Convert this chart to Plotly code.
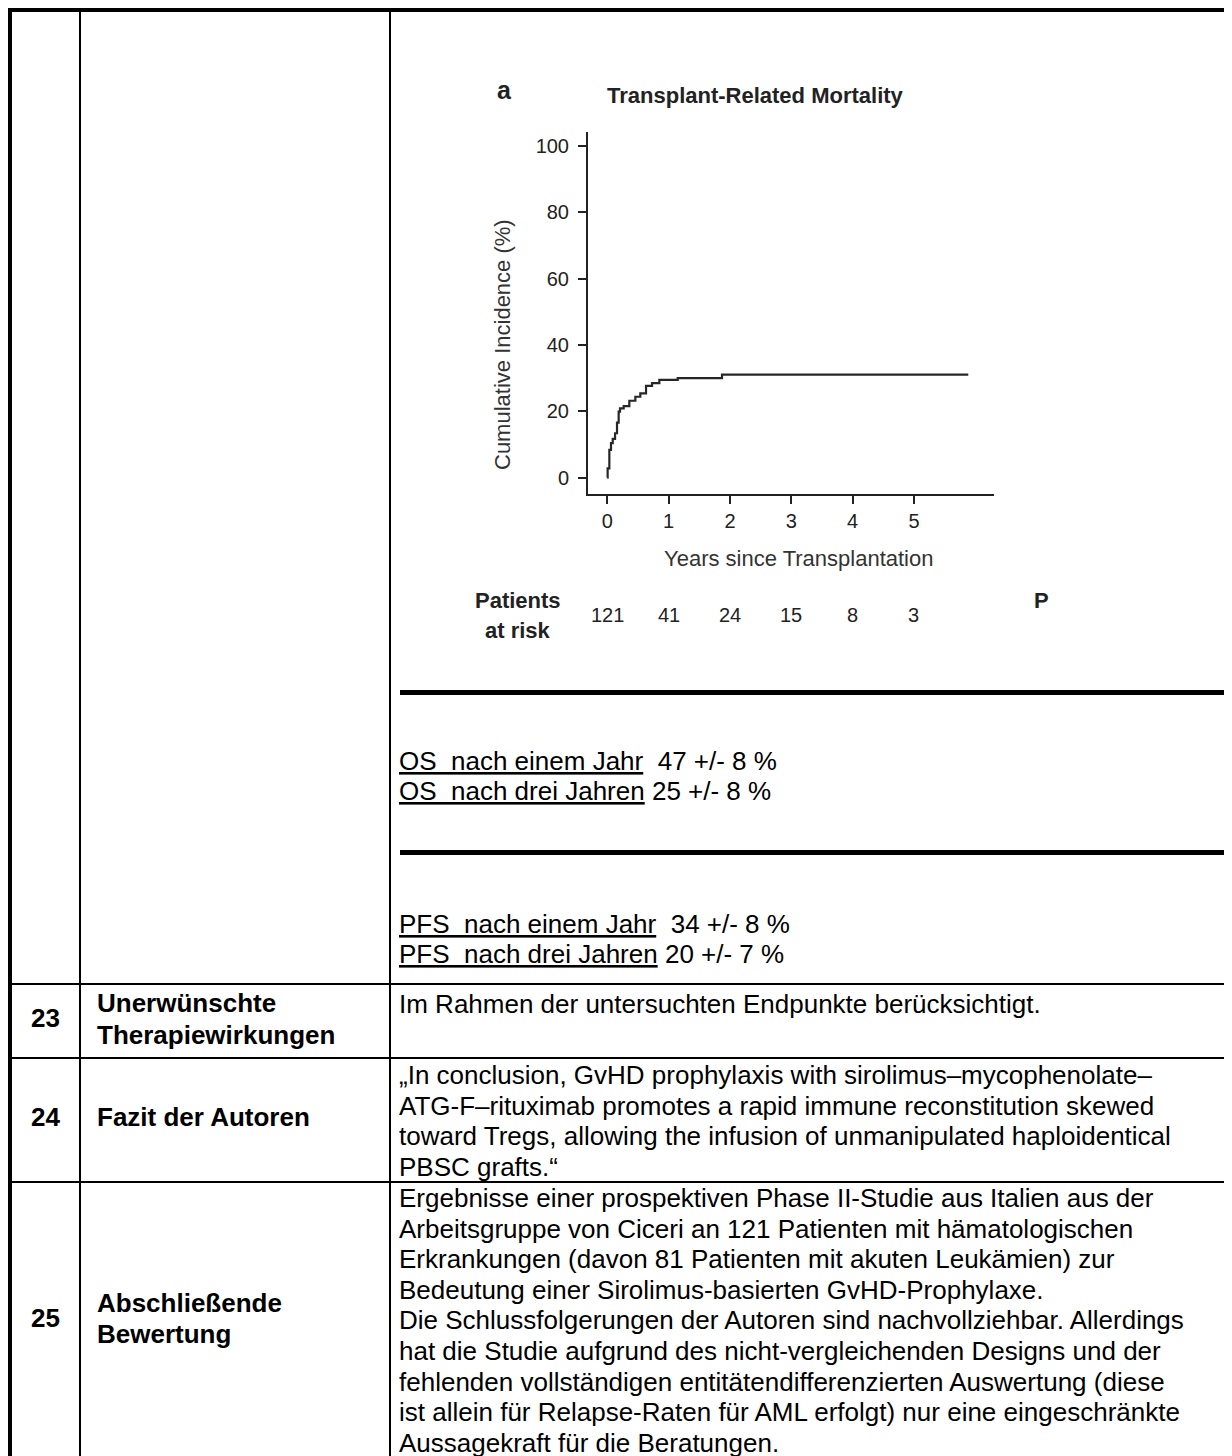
import plotly.graph_objects as go

W, H = 1232, 1456
OFF = 8  # the page body margin shifts the figure by 8 px

# ---------------- data ----------------
trm_years = [0, 0.005, 0.033, 0.060, 0.088, 0.126, 0.158, 0.185, 0.207, 0.267,
             0.359, 0.457, 0.538, 0.631, 0.729, 0.848, 1.148, 1.870, 5.886]
trm_pct = [0, 2.8, 8.4, 10.4, 11.7, 13.4, 16.6, 19.9, 20.9, 21.6,
           23.2, 24.4, 25.4, 27.7, 28.5, 29.5, 30.0, 31.1, 31.1]
x_ticks = [0, 1, 2, 3, 4, 5]
y_ticks = [0, 20, 40, 60, 80, 100]
risk_years = [0, 1, 2, 3, 4, 5]
patients_at_risk = [121, 41, 24, 15, 8, 3]

chart_title = "Transplant-Related Mortality"
panel_letter = "a"
x_title = "Years since Transplantation"
y_title = "Cumulative Incidence (%)"

os_rows = [("OS\u00a0 nach einem Jahr", "\u00a0 47 +/- 8 %"),
           ("OS\u00a0 nach drei Jahren", "\u00a025 +/- 8 %")]
pfs_rows = [("PFS\u00a0 nach einem Jahr", "\u00a0 34 +/- 8 %"),
            ("PFS\u00a0 nach drei Jahren", "\u00a020 +/- 7 %")]

row_numbers = ["23", "24", "25"]
row_labels = [["Unerwünschte", "Therapiewirkungen"],
              ["Fazit der Autoren"],
              ["Abschließende", "Bewertung"]]
row23_text = ["Im Rahmen der untersuchten Endpunkte berücksichtigt."]
row24_text = ["„In conclusion, GvHD prophylaxis with sirolimus–mycophenolate–",
              "ATG-F–rituximab promotes a rapid immune reconstitution skewed",
              "toward Tregs, allowing the infusion of unmanipulated haploidentical",
              "PBSC grafts.“"]
row25_text = ["Ergebnisse einer prospektiven Phase II-Studie aus Italien aus der",
              "Arbeitsgruppe von Ciceri an 121 Patienten mit hämatologischen",
              "Erkrankungen (davon 81 Patienten mit akuten Leukämien) zur",
              "Bedeutung einer Sirolimus-basierten GvHD-Prophylaxe.",
              "Die Schlussfolgerungen der Autoren sind nachvollziehbar. Allerdings",
              "hat die Studie aufgrund des nicht-vergleichenden Designs und der",
              "fehlenden vollständigen entitätendifferenzierten Auswertung (diese",
              "ist allein für Relapse-Raten für AML erfolgt) nur eine eingeschränkte",
              "Aussagekraft für die Beratungen."]

FONT = "Liberation Sans, Arial, Helvetica, sans-serif"
BODY = 26
INK = "#222222"


def px(x):
    return (x - OFF) / W


def py(y):
    return 1 - (y - OFF) / H


fig = go.Figure()

fig.add_trace(go.Scatter(
    x=trm_years, y=trm_pct, mode="lines", line_shape="hv",
    line=dict(color="#262626", width=2.2), showlegend=False, hoverinfo="skip"))

axis_common = dict(showline=True, linewidth=2, linecolor=INK, ticks="outside",
                   ticklen=8, tickwidth=2, tickcolor=INK, showgrid=False,
                   zeroline=False, tickfont=dict(family=FONT, size=20, color=INK))

fig.update_layout(
    width=W, height=H, autosize=False,
    margin=dict(l=0, r=0, t=0, b=0),
    paper_bgcolor="white", plot_bgcolor="white",
    xaxis=dict(domain=[px(588), px(994)], range=[-0.315, 6.305],
               tickvals=x_ticks, ticklabelstandoff=0, **axis_common),
    yaxis=dict(domain=[py(494), py(132)], range=[-4.91, 104.2],
               tickvals=y_ticks, ticklabelstandoff=5, **axis_common),
)

# ---------------- table rules ----------------
shapes = []


def hline(y, x0, x1, w):
    shapes.append(dict(type="line", xref="paper", yref="paper",
                       x0=px(x0), x1=x1, y0=py(y), y1=py(y),
                       line=dict(color="black", width=w)))


def vline(x, y0, w):
    shapes.append(dict(type="line", xref="paper", yref="paper",
                       x0=px(x), x1=px(x), y0=py(y0), y1=0,
                       line=dict(color="black", width=w)))


hline(10, 8, 1, 4)
vline(10, 8, 4)
vline(80, 10, 2)
vline(390, 10, 2)
hline(692.5, 400, 1, 5)
hline(852.5, 400, 1, 5)
for yy in (984, 1058, 1182):
    hline(yy, 10, 1, 2)

fig.update_layout(shapes=shapes)

# ---------------- text ----------------
ann = []


def txt(x, y, s, size=BODY, bold=False, xanchor="left", color="black",
        xref="paper", angle=0):
    ann.append(dict(x=(px(x) if xref == "paper" else x), y=py(y), xref=xref,
                    yref="paper", text=(f"<b>{s}</b>" if bold else s),
                    showarrow=False, xanchor=xanchor, yanchor="middle",
                    textangle=angle,
                    font=dict(family=FONT, size=size, color=color)))


# chart texts
txt(505, 90, panel_letter, size=25, bold=True, xanchor="center", color=INK)
txt(756, 95, chart_title, size=22, bold=True, xanchor="center", color=INK)
txt(502, 345, y_title, size=22, xanchor="center", color="#333333", angle=-90)
txt(798, 558, x_title, size=22, xanchor="center", color="#333333")
txt(518, 600, "Patients", size=22, bold=True, xanchor="center", color=INK)
txt(518, 630, "at risk", size=22, bold=True, xanchor="center", color=INK)
for yr, n in zip(risk_years, patients_at_risk):
    txt(yr, 615, str(n), size=20, xanchor="center", color=INK, xref="x")
txt(1041, 600, "P", size=22, bold=True, xanchor="center", color=INK)

# OS / PFS lines
TX = 397
for (u, v), yy in zip(os_rows, (761, 791)):
    txt(TX, yy, f'<span style="text-decoration:underline">{u}</span>{v}')
for (u, v), yy in zip(pfs_rows, (924, 954)):
    txt(TX, yy, f'<span style="text-decoration:underline">{u}</span>{v}')

# rows 23-25
num_y = [1018, 1117, 1318]
label_y = [[1003, 1035], [1117], [1303, 1334]]
for n, ny, labs, lys in zip(row_numbers, num_y, row_labels, label_y):
    txt(45, ny, n, size=BODY, bold=True, xanchor="center")
    for lab, ly in zip(labs, lys):
        txt(95, ly, lab, size=BODY, bold=True)

PITCH = 30.6
for i, line in enumerate(row23_text):
    txt(TX, 1004 + i * PITCH, line)
for i, line in enumerate(row24_text):
    txt(TX, 1075 + i * PITCH, line)
for i, line in enumerate(row25_text):
    txt(TX, 1198 + i * PITCH, line)

fig.update_layout(annotations=ann)

fig.write_html("out.html")
